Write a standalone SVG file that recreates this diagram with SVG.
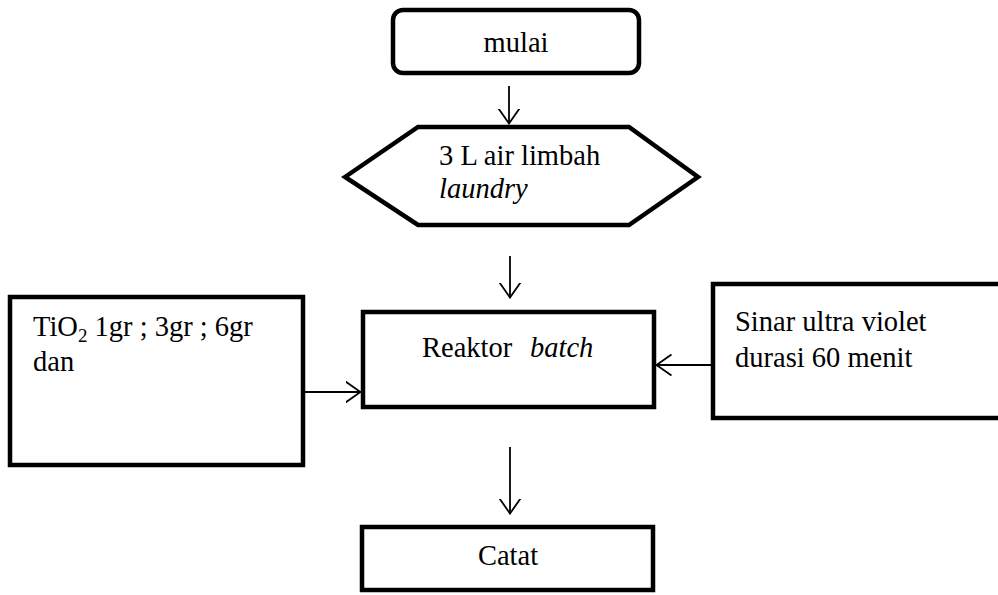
<svg xmlns="http://www.w3.org/2000/svg" width="998" height="595" viewBox="0 0 998 595">
<style>
.box{fill:#fff;stroke:#000;stroke-width:4.5;stroke-linejoin:miter}
.t{font-family:"Liberation Serif","Times New Roman",serif;font-size:28.5px;fill:#000}
.i{font-style:italic}
.c{fill:none;stroke:#000;stroke-width:1.8}
</style>
<defs>
<marker id="ah" viewBox="0 0 16 24" refX="15.5" refY="12" markerWidth="16" markerHeight="24" markerUnits="userSpaceOnUse" orient="auto">
<path d="M0,1.5 L15,12 L0,22.5" fill="none" stroke="#000" stroke-width="1.8"/>
</marker>
</defs>
<rect width="998" height="595" fill="#fff"/>
<g id="connectors">
<line class="c" x1="509" y1="86" x2="509" y2="124" marker-end="url(#ah)"/>
<line class="c" x1="510" y1="256" x2="510" y2="298" marker-end="url(#ah)"/>
<line class="c" x1="303" y1="392" x2="361" y2="392" marker-end="url(#ah)"/>
<line class="c" x1="713" y1="365" x2="656" y2="365" marker-end="url(#ah)"/>
<line class="c" x1="510" y1="447" x2="510" y2="514" marker-end="url(#ah)"/>
</g>
<g id="mulai">
<rect class="box" x="393" y="10" width="246" height="63" rx="10"/>
<text class="t" x="516" y="52" text-anchor="middle">mulai</text>
</g>
<g id="input">
<polygon class="box" stroke-width="5" points="345,177 418,127 629,127 698,177 629,225 418,225"/>
<text class="t" x="439" y="165">3 L air limbah</text>
<text class="t i" x="439" y="198">laundry</text>
</g>
<g id="tio2">
<rect class="box" x="10" y="297" width="293" height="168"/>
<text class="t" x="33" y="336">TiO<tspan font-size="19" dy="6">2</tspan><tspan dy="-6"> 1gr ; 3gr ; 6gr</tspan></text>
<text class="t" x="33" y="371">dan</text>
</g>
<g id="reaktor">
<rect class="box" x="363" y="312" width="291" height="95"/>
<text class="t" x="422" y="357">Reaktor <tspan class="i" x="530">batch</tspan></text>
</g>
<g id="uv">
<rect class="box" x="713" y="284" width="300" height="134"/>
<text class="t" x="735" y="331">Sinar ultra violet</text>
<text class="t" x="735" y="367">durasi 60 menit</text>
</g>
<g id="catat">
<rect class="box" x="362" y="527" width="291" height="63"/>
<text class="t" x="508" y="565" text-anchor="middle">Catat</text>
</g>
</svg>
